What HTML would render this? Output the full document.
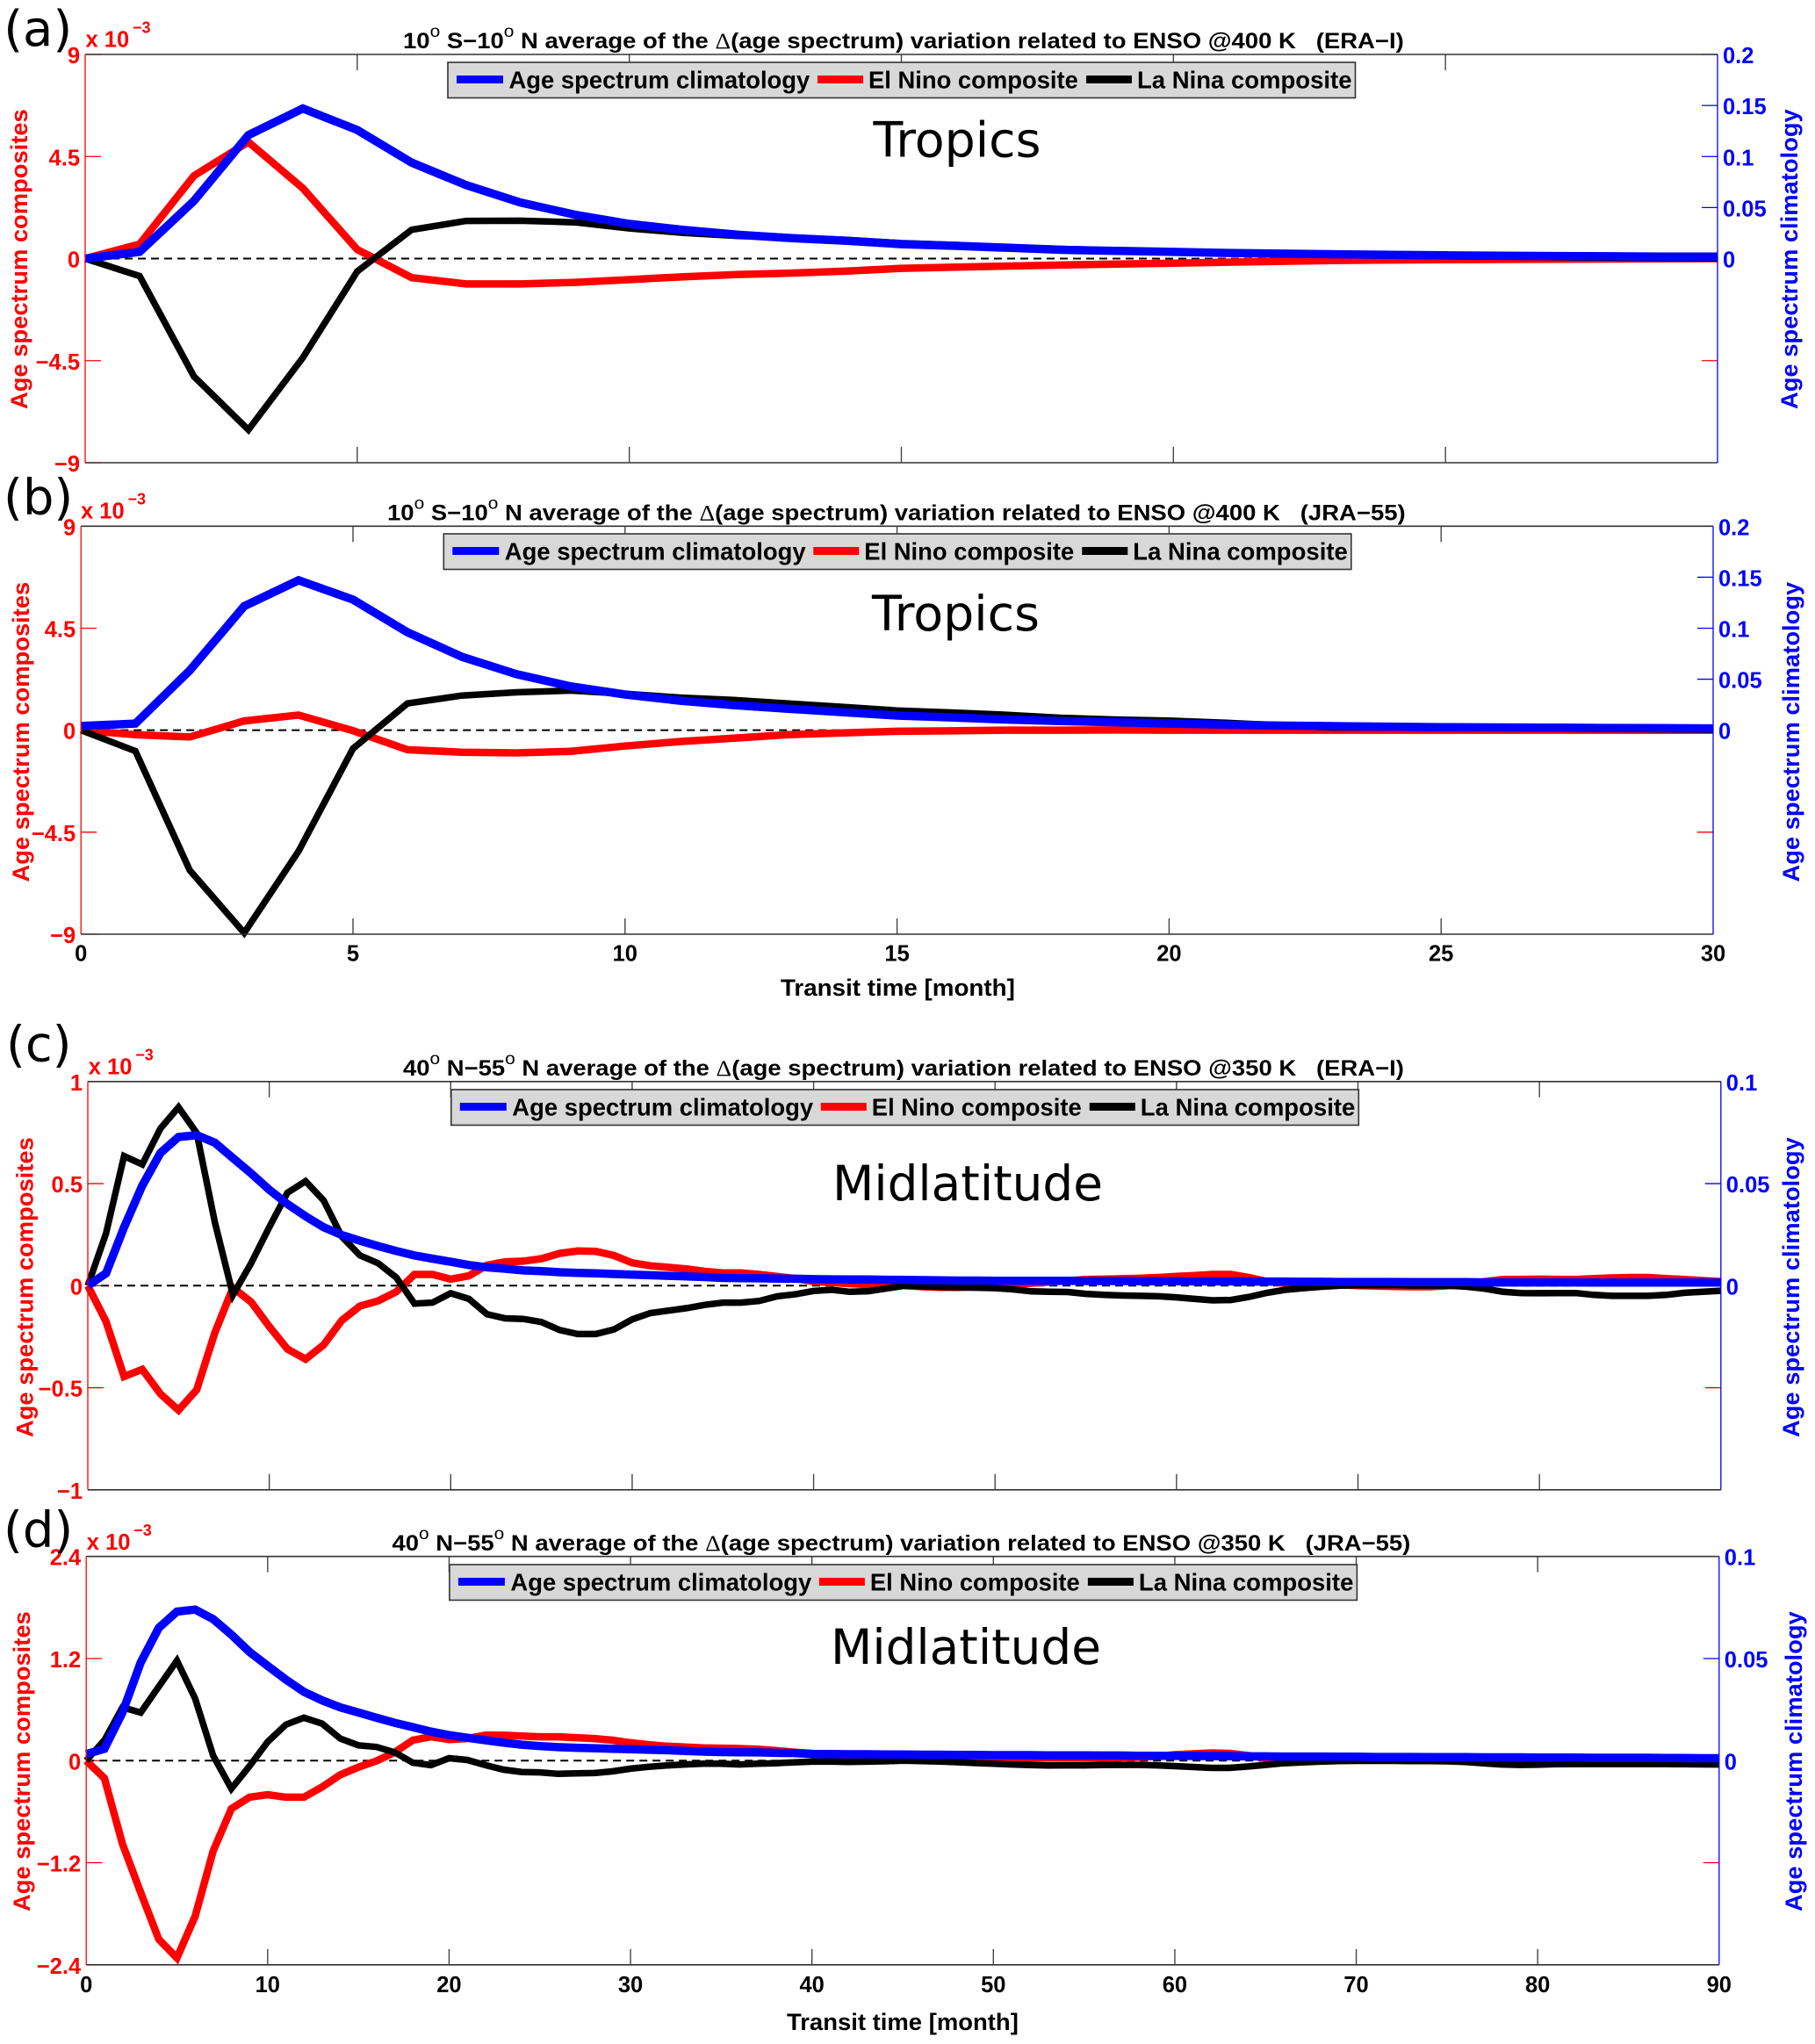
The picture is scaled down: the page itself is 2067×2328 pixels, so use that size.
<!DOCTYPE html>
<html>
<head>
<meta charset="utf-8">
<title>Age spectrum ENSO composites</title>
<style>
html,body{margin:0;padding:0;background:#fff;}
svg{display:block;}
text{font-family:"Liberation Sans",sans-serif;font-weight:bold;white-space:pre;}
.big{font-family:"DejaVu Sans",sans-serif;font-weight:normal;}
.delta{font-family:"Liberation Serif",serif;font-weight:normal;}
.deg{font-weight:normal;}
</style>
</head>
<body>
<svg id="figure" xmlns="http://www.w3.org/2000/svg" width="2067" height="2328" viewBox="0 0 2067 2328">
<rect x="0" y="0" width="2067" height="2328" fill="#fff"/>
<g id="panel-a">
<text class="title" data-x="459" data-y="55" data-w="1140" font-size="25">10<tspan class="deg" dy="-13" font-size="19">o</tspan><tspan dy="13"> S−10</tspan><tspan class="deg" dy="-13" font-size="19">o</tspan><tspan dy="13"> N average of the </tspan><tspan class="delta">Δ</tspan>(age spectrum) variation related to ENSO @400 K   (ERA−I)</text>
</g>
<g id="panel-b">
<text class="title" data-x="441" data-y="592.5" data-w="1160" font-size="25">10<tspan class="deg" dy="-13" font-size="19">o</tspan><tspan dy="13"> S−10</tspan><tspan class="deg" dy="-13" font-size="19">o</tspan><tspan dy="13"> N average of the </tspan><tspan class="delta">Δ</tspan>(age spectrum) variation related to ENSO @400 K   (JRA−55)</text>
</g>
<g id="panel-c">
<text class="title" data-x="459" data-y="1225" data-w="1140" font-size="25">40<tspan class="deg" dy="-13" font-size="19">o</tspan><tspan dy="13"> N−55</tspan><tspan class="deg" dy="-13" font-size="19">o</tspan><tspan dy="13"> N average of the </tspan><tspan class="delta">Δ</tspan>(age spectrum) variation related to ENSO @350 K   (ERA−I)</text>
</g>
<g id="panel-d">
<text class="title" data-x="446.5" data-y="1766" data-w="1160" font-size="25">40<tspan class="deg" dy="-13" font-size="19">o</tspan><tspan dy="13"> N−55</tspan><tspan class="deg" dy="-13" font-size="19">o</tspan><tspan dy="13"> N average of the </tspan><tspan class="delta">Δ</tspan>(age spectrum) variation related to ENSO @350 K   (JRA−55)</text>
</g>
</svg>
<script>
// ---------- data: panel (a) Tropics, ERA-I ----------
const xTicksTropics = [0,5,10,15,20,25,30];
const xTicksMidlat = [0,10,20,30,40,50,60,70,80,90];
const leftTicksTropics = [-9,-4.5,0,4.5,9];
const leftTicksMidlatC = [-1,-0.5,0,0.5,1];
const leftTicksMidlatD = [-2.4,-1.2,0,1.2,2.4];
const rightTicksTropics = [0,0.05,0.1,0.15,0.2];
const rightTicksMidlat = [0,0.05,0.1];
const rightMaxTropics = 0.2;
const rightMaxMidlat = 0.1;

const redA = [0,0.64,3.65,5.14,3.1,0.4,-0.84,-1.12,-1.12,-1.05,-0.93,-0.8,-0.7,-0.64,-0.55,-0.43,-0.38,-0.33,-0.28,-0.24,-0.2,-0.16,-0.12,-0.08,-0.06,-0.05,-0.04,-0.03,-0.02,-0.01,0];
const blackA = [0,-0.77,-5.2,-7.55,-4.37,-0.57,1.27,1.66,1.67,1.6,1.33,1.13,1.0,0.93,0.82,0.68,0.6,0.5,0.42,0.36,0.3,0.25,0.2,0.16,0.13,0.1,0.08,0.06,0.04,0.02,0.01];
const blueA = [0,0.0065,0.0565,0.121,0.147,0.126,0.094,0.072,0.055,0.043,0.034,0.028,0.0233,0.02,0.0175,0.0141,0.0125,0.0105,0.0085,0.0075,0.0065,0.0055,0.0048,0.0042,0.0036,0.0032,0.0028,0.0025,0.0022,0.002,0.002];

// ---------- data: panel (b) Tropics, JRA-55 ----------
const redB = [0,-0.2,-0.3,0.41,0.67,-0.02,-0.86,-0.97,-1.0,-0.93,-0.7,-0.5,-0.35,-0.2,-0.12,-0.05,-0.03,0,0,0.01,0,0,0,0,0,0,0,0,0,0,0];
const blackB = [0,-0.92,-6.18,-8.94,-5.34,-0.81,1.18,1.53,1.67,1.75,1.61,1.44,1.33,1.18,1.03,0.87,0.78,0.68,0.55,0.47,0.42,0.33,0.22,0.12,0.12,0.1,0.1,0.08,0.06,0.04,0.02];
const blueB = [0.0041,0.0065,0.0586,0.1216,0.147,0.128,0.096,0.072,0.055,0.043,0.035,0.029,0.0245,0.021,0.0177,0.0143,0.0125,0.0105,0.009,0.0078,0.0065,0.0055,0.0045,0.004,0.0035,0.003,0.0027,0.0025,0.0022,0.002,0.0018];

// ---------- data: panel (c) Midlatitude, ERA-I ----------
const redC = [0,-0.175,-0.445,-0.41,-0.53,-0.61,-0.51,-0.23,-0.01,-0.08,
-0.2,-0.31,-0.36,-0.29,-0.17,-0.10,-0.075,-0.03,0.055,0.055,
0.032,0.048,0.10,0.117,0.12,0.132,0.158,0.17,0.168,0.148,
0.112,0.097,0.09,0.082,0.07,0.063,0.063,0.055,0.045,0.035,
0.02,0.015,0.01,0.005,0.005,0,-0.005,-0.008,-0.008,-0.005,
0.002,0.006,0.012,0.018,0.024,0.03,0.032,0.034,0.036,0.04,
0.045,0.05,0.055,0.055,0.04,0.02,0.012,0.01,0.007,0.004,
0,-0.002,-0.004,-0.005,-0.005,0,0.005,0.02,0.03,0.031,
0.032,0.031,0.03,0.035,0.038,0.04,0.04,0.035,0.03,0.025,0.02];
const blackC = [0,0.255,0.635,0.594,0.77,0.874,0.748,0.31,-0.045,0.11,
0.286,0.455,0.512,0.417,0.24,0.148,0.11,0.04,-0.088,-0.083,
-0.037,-0.065,-0.14,-0.16,-0.163,-0.178,-0.217,-0.237,-0.237,-0.214,
-0.165,-0.134,-0.122,-0.11,-0.094,-0.083,-0.083,-0.075,-0.052,-0.042,
-0.026,-0.02,-0.03,-0.027,-0.014,0,-0.003,-0.006,-0.008,-0.01,
-0.012,-0.018,-0.028,-0.03,-0.031,-0.04,-0.045,-0.048,-0.05,-0.052,
-0.057,-0.065,-0.072,-0.07,-0.055,-0.035,-0.02,-0.012,-0.005,0,
0.002,0.002,0.002,0.001,0.001,0,-0.005,-0.015,-0.03,-0.036,
-0.037,-0.036,-0.036,-0.045,-0.05,-0.05,-0.05,-0.045,-0.035,-0.03,-0.025];
const blueC = [0,0.006,0.0286,0.049,0.065,0.0728,0.0737,0.07,0.0625,0.055,
0.047,0.04,0.034,0.0286,0.0248,0.022,0.0194,0.017,0.0148,0.0132,
0.0117,0.0101,0.009,0.0083,0.0075,0.0071,0.0066,0.0063,0.006,0.0057,
0.0054,0.0051,0.0048,0.0045,0.0042,0.0038,0.0037,0.0036,0.0035,0.0034,
0.0032,0.0031,0.003,0.003,0.0029,0.0028,0.0027,0.0026,0.0025,0.0025,
0.0024,0.0024,0.0024,0.0024,0.0024,0.0023,0.0023,0.0023,0.0022,0.0022,
0.0022,0.0021,0.0021,0.0021,0.002,0.002,0.002,0.0019,0.0019,0.0018,
0.0018,0.0018,0.0018,0.0017,0.0017,0.0017,0.0017,0.0016,0.0016,0.0016,
0.0016,0.0016,0.0016,0.0015,0.0015,0.0015,0.0015,0.0015,0.0015,0.0015,0.0015];

// ---------- data: panel (d) Midlatitude, JRA-55 ----------
const redD = [0,-0.207,-0.98,-1.55,-2.1,-2.32,-1.83,-1.06,-0.565,-0.43,
-0.40,-0.43,-0.43,-0.31,-0.167,-0.077,-0.004,0.098,0.24,0.28,
0.248,0.26,0.30,0.30,0.29,0.28,0.28,0.27,0.26,0.24,
0.21,0.187,0.17,0.16,0.15,0.146,0.142,0.134,0.118,0.10,
0.085,0.07,0.06,0.05,0.03,0.02,0.015,0.01,0.01,0.01,
0.02,0.025,0.03,0.03,0.03,0.03,0.03,0.035,0.04,0.05,
0.07,0.08,0.09,0.085,0.06,0.03,0.02,0.015,0.012,0.01,
0.01,0.01,0.01,0.01,0.01,0.012,0.015,0.018,0.02,0.02,
0.02,0.022,0.025,0.03,0.035,0.035,0.035,0.033,0.03,0.025,0.02];
const blackD = [0,0.24,0.626,0.565,0.87,1.175,0.73,0.057,-0.33,-0.065,
0.22,0.423,0.504,0.435,0.26,0.18,0.16,0.098,-0.024,-0.053,
0.028,0.008,-0.053,-0.106,-0.134,-0.138,-0.155,-0.15,-0.146,-0.126,
-0.094,-0.073,-0.057,-0.045,-0.037,-0.037,-0.045,-0.037,-0.03,-0.02,
-0.012,-0.01,-0.016,-0.012,-0.008,0,-0.005,-0.01,-0.018,-0.028,
-0.036,-0.045,-0.052,-0.057,-0.055,-0.055,-0.052,-0.05,-0.05,-0.055,
-0.065,-0.075,-0.085,-0.085,-0.07,-0.05,-0.03,-0.02,-0.012,-0.006,
-0.003,-0.003,-0.003,-0.005,-0.006,-0.008,-0.015,-0.03,-0.045,-0.05,
-0.048,-0.042,-0.04,-0.04,-0.04,-0.04,-0.04,-0.04,-0.042,-0.044,-0.045];
const blueD = [0.0032,0.0058,0.0236,0.048,0.065,0.073,0.074,0.0693,0.0617,0.0532,
0.0464,0.0397,0.0337,0.0295,0.0261,0.0236,0.021,0.0185,0.0164,0.0142,
0.0125,0.0112,0.01,0.0088,0.0078,0.0071,0.0066,0.0063,0.0061,0.0058,
0.0056,0.0053,0.0051,0.0047,0.0044,0.0042,0.0041,0.004,0.0038,0.0037,
0.0032,0.0032,0.0031,0.0031,0.003,0.003,0.0029,0.0029,0.0028,0.0028,
0.0027,0.0027,0.0027,0.0026,0.0026,0.0026,0.0025,0.0025,0.0024,0.0024,
0.0023,0.0023,0.0022,0.0022,0.0021,0.0021,0.002,0.002,0.002,0.0019,
0.0019,0.0018,0.0018,0.0018,0.0017,0.0017,0.0017,0.0016,0.0016,0.0016,
0.0015,0.0015,0.0015,0.0014,0.0014,0.0014,0.0014,0.0013,0.0013,0.0012,0.0012];

// ---------- layout ----------
const SVGNS = 'http://www.w3.org/2000/svg';
const RED = '#ff0000', BLUE = '#0000ff';

function make(parent, tag, attrs, txt) {
  const el = document.createElementNS(SVGNS, tag);
  for (const k in attrs) el.setAttribute(k, attrs[k]);
  if (txt !== undefined) el.textContent = txt;
  parent.appendChild(el);
  return el;
}
function fit(el, x, y, w, rot) {
  const k = w / el.getComputedTextLength();
  el.setAttribute('transform', 'translate(' + x + ' ' + y + ')' + (rot ? ' rotate(-90)' : '') + ' scale(' + k + ' 1)');
}
function fmt(v) { return String(v).replace('-', '−'); }

function drawPanel(cfg) {
  const g = document.getElementById(cfg.id);
  const L = cfg.left, R = cfg.right, T = cfg.top, B = cfg.bottom;
  const sx = v => L + (v - 0) / cfg.xMax * (R - L);
  const mid = (T + B) / 2;
  const syL = v => mid - v / cfg.leftMax * (B - T) / 2;
  const syR = v => mid - v / cfg.rightMax * (B - T) / 2;
  const tickLen = 18;

  cfg.xTicks.forEach(v => {
    const x = sx(v);
    if (v > 0 && v < cfg.xMax) {
      const t1 = make(g, 'line', {x1:x, x2:x, y1:T, y2:T + tickLen, stroke:'#444', 'stroke-width':1.4});
      
      
      const t2 = make(g, 'line', {x1:x, x2:x, y1:B, y2:B - tickLen, stroke:'#444', 'stroke-width':1.4});
      
      
    }
    if (cfg.xLabels) {
      const lb = make(g, 'text', {x:x, y:cfg.xLabelY, 'text-anchor':'middle', 'font-size':25.5, fill:'#000'}, fmt(v));
      
      
    }
  });

  cfg.leftTicks.forEach(v => {
    const y = syL(v);
    const t = make(g, 'line', {x1:L, x2:L + tickLen, y1:y, y2:y, stroke:RED, 'stroke-width':1.3});
    
    
    const lb = make(g, 'text', {x:L - 6, y:y + 10, 'text-anchor':'end', 'font-size':25.5, fill:RED}, fmt(v));
    
    
    if (v < 0 && v > -cfg.leftMax) {
      const tr = make(g, 'line', {x1:R, x2:R - tickLen, y1:y, y2:y, stroke:RED, 'stroke-width':1.3});
      
      
    }
  });
  cfg.rightTicks.forEach(v => {
    const y = syR(v);
    const t = make(g, 'line', {x1:R, x2:R - tickLen, y1:y, y2:y, stroke:BLUE, 'stroke-width':1.3});
    
    
    const lb = make(g, 'text', {x:R + 6, y:y + 10, 'font-size':25.5, fill:BLUE}, fmt(v));
    
    
  });

  const dash = make(g, 'line', {x1:L, x2:R, y1:syL(0), y2:syL(0), stroke:'#000', 'stroke-width':2, 'stroke-dasharray':'9 6'});
  
  

  const toPts = (arr, sy) => arr.map((v, i) => sx(i).toFixed(1) + ',' + sy(v).toFixed(1)).join(' ');
  const common = {fill:'none', 'stroke-linejoin':'miter', 'stroke-miterlimit':10};
  const redLine = make(g, 'polyline', Object.assign({points:toPts(cfg.red, syL), stroke:RED, 'stroke-width':8.5}, common));
  
  
  const blackLine = make(g, 'polyline', Object.assign({points:toPts(cfg.black, syL), stroke:'#000', 'stroke-width':7.5}, common));
  
  
  const blueLine = make(g, 'polyline', Object.assign({points:toPts(cfg.blue, syR), stroke:BLUE, 'stroke-width':9.5}, common));
  
  

  const fT = make(g, 'line', {x1:L, x2:R, y1:T, y2:T, stroke:'#333', 'stroke-width':1.6});
  
  
  const fB = make(g, 'line', {x1:L, x2:R, y1:B, y2:B, stroke:'#333', 'stroke-width':1.6});
  
  
  const fL = make(g, 'line', {x1:L, x2:L, y1:T, y2:B, stroke:RED, 'stroke-width':1.3});
  
  
  const fR = make(g, 'line', {x1:R, x2:R, y1:T, y2:B, stroke:BLUE, 'stroke-width':1.3});
  
  

  // legend
  const lx = cfg.legendX, ly = cfg.legendY;
  const lg = make(g, 'g', {});
  
  
  const box = make(lg, 'rect', {x:lx, y:ly, width:1033.5, height:40.5, fill:'#d8d8d8', stroke:'#333', 'stroke-width':1.6});
  
  
  const sy = ly + 19.5, ty = ly + 29.5;
  const s1 = make(lg, 'line', {x1:lx + 10, x2:lx + 63, y1:sy, y2:sy, stroke:BLUE, 'stroke-width':9});
  
  
  const t1 = make(lg, 'text', {'font-size':28, fill:'#000'}, 'Age spectrum climatology');
  
  
  fit(t1, lx + 69.5, ty, 343);
  const s2 = make(lg, 'line', {x1:lx + 421, x2:lx + 473, y1:sy, y2:sy, stroke:RED, 'stroke-width':9});
  
  
  const t2 = make(lg, 'text', {'font-size':28, fill:'#000'}, 'El Nino composite');
  
  
  fit(t2, lx + 479, ty, 239);
  const s3 = make(lg, 'line', {x1:lx + 727, x2:lx + 779, y1:sy, y2:sy, stroke:'#000', 'stroke-width':9});
  
  
  const t3 = make(lg, 'text', {'font-size':28, fill:'#000'}, 'La Nina composite');
  
  
  fit(t3, lx + 785, ty, 244.5);

  // axis titles
  const yl = make(g, 'text', {'font-size':27, fill:RED}, 'Age spectrum composites');
  
  
  fit(yl, cfg.leftTitleX, cfg.yTitleBottom, 342, true);
  const yr = make(g, 'text', {'font-size':27, fill:BLUE}, 'Age spectrum climatology');
  
  
  fit(yr, cfg.rightTitleX, cfg.yTitleBottom, 342, true);

  // multiplier
  const mul = make(g, 'text', {x:cfg.mulX, y:cfg.mulY, 'font-size':25.5, fill:RED}, 'x 10');
  
  
  const exp = make(g, 'text', {x:cfg.mulX + 53.5, y:cfg.mulY - 16, 'font-size':18, fill:RED}, '−3');
  
  

  // panel letter
  const pl = make(g, 'text', {'class':'big', 'font-size':56, x:cfg.letterX, y:cfg.letterY, fill:'#000'}, cfg.letter);
  
  

  // region annotation
  const rg = make(g, 'text', {'class':'big', 'font-size':55, fill:'#000'}, cfg.region);
  
  
  fit(rg, cfg.regionX, cfg.regionY, cfg.regionW);

  // x title
  if (cfg.xTitleX !== undefined) {
    const xt = make(g, 'text', {'font-size':27, fill:'#000'}, 'Transit time [month]');
    
    
    fit(xt, cfg.xTitleX, cfg.xTitleY, cfg.xTitleW);
  }
}

document.querySelectorAll('text.title').forEach(t => {
  fit(t, +t.getAttribute('data-x'), +t.getAttribute('data-y'), +t.getAttribute('data-w'));
});

drawPanel({id:'panel-a', left:97, right:1956, top:62, bottom:527, xMax:30, leftMax:9, rightMax:rightMaxTropics,
  xTicks:xTicksTropics, leftTicks:leftTicksTropics, rightTicks:rightTicksTropics, xLabels:false,
  red:redA, black:blackA, blue:blueA, legendX:510, legendY:71,
  leftTitleX:31, rightTitleX:2047, yTitleBottom:466, mulX:97.5, mulY:53.5,
  letter:'(a)', letterX:4.2, letterY:52, region:'Tropics', regionX:994.5, regionY:178.5, regionW:191});

drawPanel({id:'panel-b', left:92.2, right:1951, top:599.3, bottom:1064, xMax:30, leftMax:9, rightMax:rightMaxTropics,
  xTicks:xTicksTropics, leftTicks:leftTicksTropics, rightTicks:rightTicksTropics, xLabels:true, xLabelY:1094.5,
  red:redB, black:blackB, blue:blueB, legendX:505.3, legendY:608,
  leftTitleX:33, rightTitleX:2049, yTitleBottom:1004.5, mulX:92, mulY:590.5,
  letter:'(b)', letterX:4, letterY:585.5, region:'Tropics', regionX:993, regionY:718, regionW:191,
  xTitleX:889, xTitleY:1134, xTitleW:267});

drawPanel({id:'panel-c', left:100, right:1959.8, top:1231.8, bottom:1696.8, xMax:90, leftMax:1, rightMax:rightMaxMidlat,
  xTicks:xTicksMidlat, leftTicks:leftTicksMidlatC, rightTicks:rightTicksMidlat, xLabels:false,
  red:redC, black:blackC, blue:blueC, legendX:513.8, legendY:1241,
  leftTitleX:37.5, rightTitleX:2049, yTitleBottom:1637, mulX:100.8, mulY:1223.5,
  letter:'(c)', letterX:7, letterY:1208.7, region:'Midlatitude', regionX:948, regionY:1367, regionW:308});

drawPanel({id:'panel-d', left:98.2, right:1957.8, top:1772.7, bottom:2237.8, xMax:90, leftMax:2.4, rightMax:rightMaxMidlat,
  xTicks:xTicksMidlat, leftTicks:leftTicksMidlatD, rightTicks:rightTicksMidlat, xLabels:true, xLabelY:2269,
  red:redD, black:blackD, blue:blueD, legendX:511.9, legendY:1782,
  leftTitleX:34, rightTitleX:2052, yTitleBottom:2177, mulX:98.8, mulY:1765,
  letter:'(d)', letterX:4, letterY:1761.7, region:'Midlatitude', regionX:946, regionY:1895, regionW:308,
  xTitleX:896, xTitleY:2312, xTitleW:264});
</script>
</body>
</html>
